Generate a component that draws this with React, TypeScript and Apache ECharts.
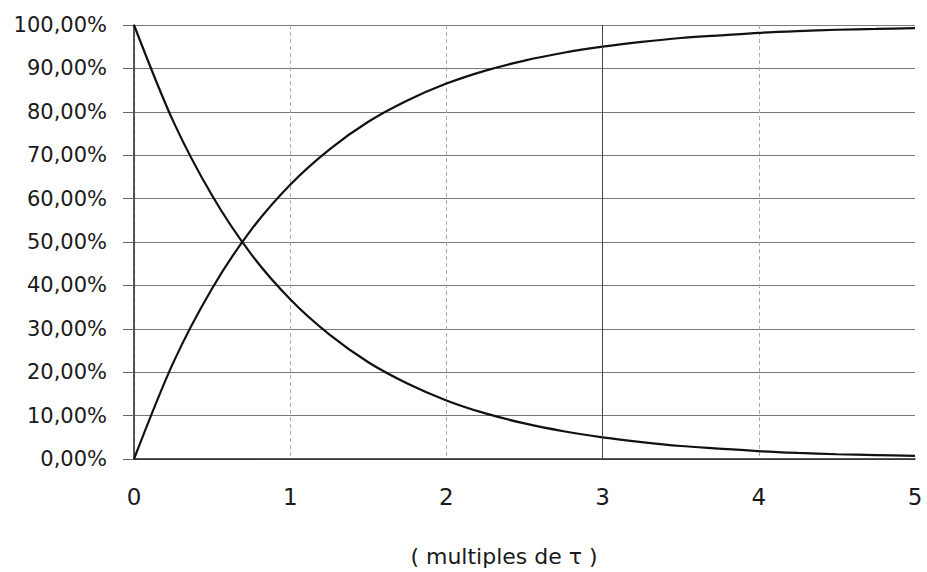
import React, { useEffect, useRef } from "react";
import * as echarts from "echarts";

const tValues = [0, 0.25, 0.5, 0.75, 1, 1.25, 1.5, 1.75, 2, 2.25, 2.5, 2.75, 3, 3.25, 3.5, 3.75, 4, 4.25, 4.5, 4.75, 5];
const decay = [100, 77.9, 60.7, 47.2, 36.8, 28.7, 22.3, 17.4, 13.5, 10.5, 8.2, 6.4, 5.0, 3.9, 3.0, 2.4, 1.8, 1.4, 1.1, 0.9, 0.7];
const growth = [0, 22.1, 39.3, 52.8, 63.2, 71.3, 77.7, 82.6, 86.5, 89.5, 91.8, 93.6, 95.0, 96.1, 97.0, 97.6, 98.2, 98.6, 98.9, 99.1, 99.3];
const xTitle = "( multiples de τ )";

const FONT = "'DejaVu Sans', Verdana, sans-serif";

export default function App() {
  const ref = useRef<HTMLDivElement>(null);
  useEffect(() => {
    if (!ref.current) return;
    const chart = echarts.init(ref.current, undefined, { renderer: "svg" });
    chart.setOption({
      animation: false,
      backgroundColor: "#ffffff",
      grid: { left: 134, right: 12, top: 25, bottom: 113 },
      xAxis: {
        type: "value",
        min: 0,
        max: 5,
        interval: 1,
        axisLine: { show: true, lineStyle: { color: "#222", width: 1.5 } },
        axisTick: { show: false },
        axisLabel: { margin: 26, fontSize: 23, color: "#1a1a1a", fontFamily: FONT },
        splitLine: { show: true, showMaxLine: false, lineStyle: { color: "#aaa", width: 1, type: [4, 3] } },
      },
      yAxis: {
        type: "value",
        min: 0,
        max: 100,
        interval: 10,
        axisLine: { show: true, lineStyle: { color: "#222", width: 1.5 } },
        axisTick: { show: true, inside: false, length: 11, lineStyle: { color: "#666" } },
        axisLabel: {
          margin: 27,
          fontSize: 21,
          color: "#1a1a1a",
          fontFamily: FONT,
          formatter: (v: number) => v.toFixed(2).replace(".", ",") + "%",
        },
        splitLine: { show: true, lineStyle: { color: "#777", width: 1 } },
      },
      graphic: [
        {
          type: "text",
          x: 504,
          y: 556,
          style: {
            text: xTitle,
            fontSize: 22,
            fontFamily: FONT,
            fill: "#1a1a1a",
            align: "center",
            verticalAlign: "middle",
          },
        },
      ],
      series: [
        {
          type: "line",
          data: tValues.map((t, i) => [t, decay[i]]),
          showSymbol: false,
          smooth: 0.3,
          lineStyle: { color: "#111", width: 2.2 },
          markLine: {
            silent: true,
            symbol: "none",
            label: { show: false },
            lineStyle: { color: "#444", width: 1, type: "solid" },
            data: [{ xAxis: 3 }],
          },
        },
        {
          type: "line",
          data: tValues.map((t, i) => [t, growth[i]]),
          showSymbol: false,
          smooth: 0.3,
          lineStyle: { color: "#111", width: 2.2 },
        },
      ],
    });
    return () => chart.dispose();
  }, []);
  return <div ref={ref} style={{ width: 927, height: 572, position: "absolute", left: 0, top: 0 }} />;
}
